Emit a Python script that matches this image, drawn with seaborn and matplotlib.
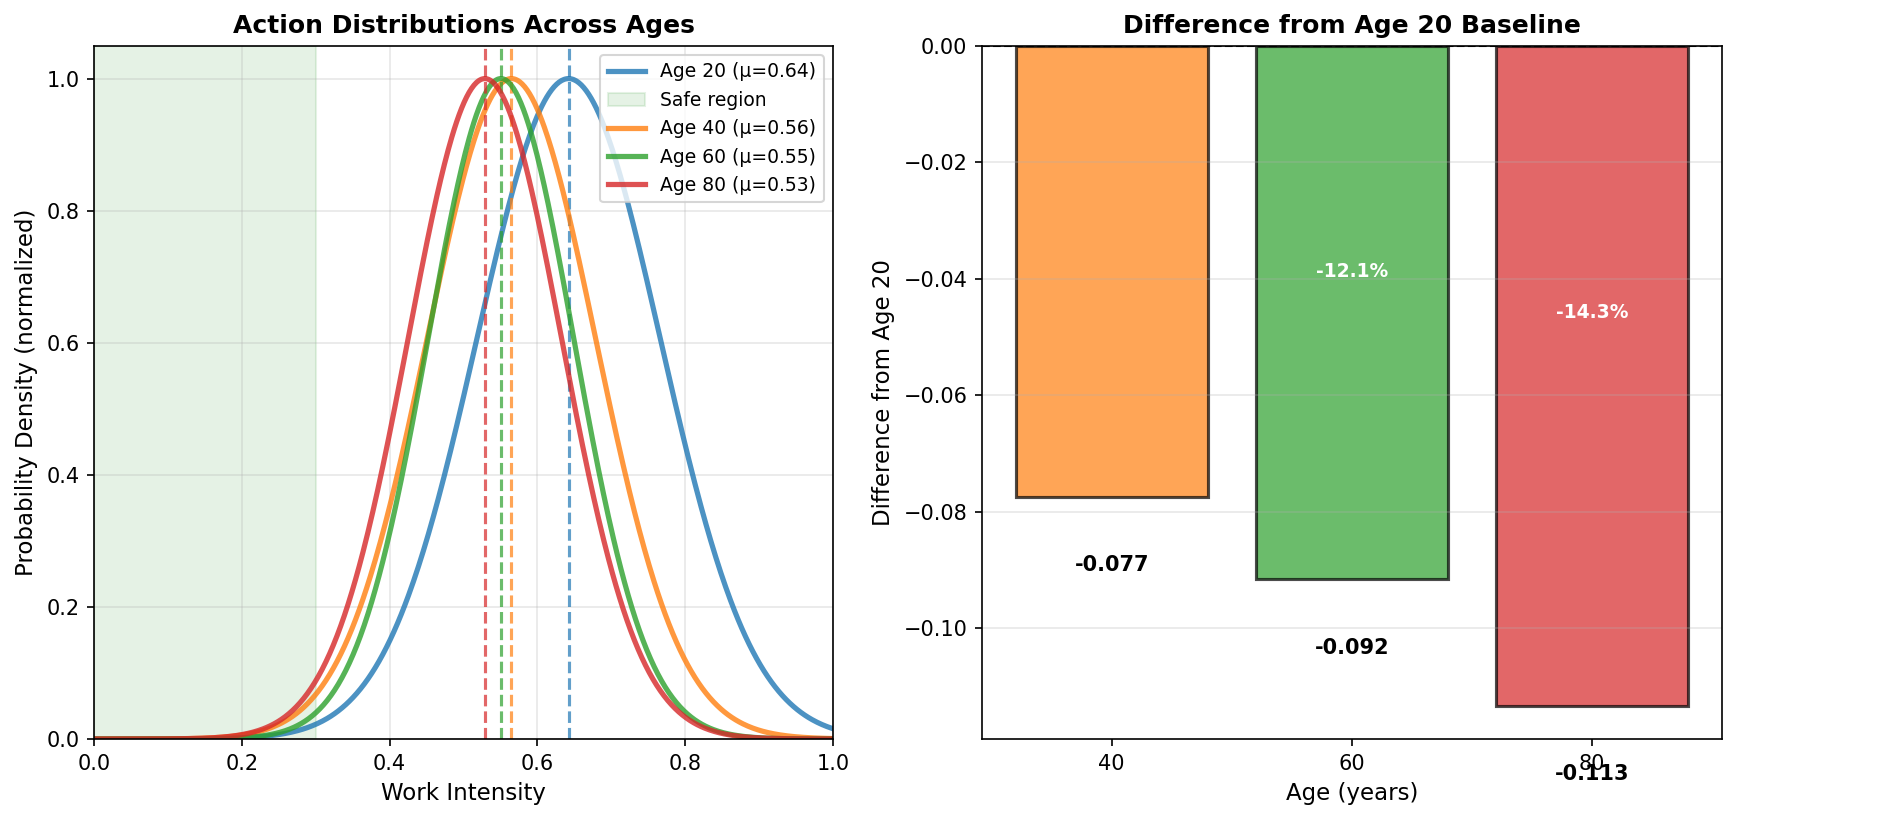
import matplotlib
matplotlib.use("Agg")
import matplotlib.pyplot as plt
import numpy as np
import pandas as pd
import seaborn as sns

# values
ages = [20, 40, 60, 80]
means = [0.6422, 0.5648, 0.5506, 0.5289]
sigmas = [0.124, 0.114, 0.0986, 0.1038]
colors = ["#1f77b4", "#ff7f0e", "#2ca02c", "#d62728"]
pct_labels = ["-12.1%", "-14.3%"]  # drawn on the Age 60 and Age 80 bars
safe_region = (0.0, 0.3)

fig = plt.figure(figsize=(1883 / 150, 820 / 150), dpi=150)
ax1 = fig.add_axes([0.0499, 0.0988, 0.3925, 0.8456])
ax2 = fig.add_axes([0.5215, 0.0988, 0.3930, 0.8456])

# left: normalized action distributions
x = np.linspace(0, 1, 600)
for i, (age, mu, sd, c) in enumerate(zip(ages, means, sigmas, colors)):
    dens = np.exp(-0.5 * ((x - mu) / sd) ** 2)
    curve = pd.DataFrame({"x": x, "density": dens / dens.max()})
    sns.lineplot(data=curve, x="x", y="density", color=c, lw=2.5, alpha=0.8,
                 label=f"Age {age} (\u03bc={mu:.2f})", ax=ax1)
    ax1.axvline(mu, color=c, ls="--", lw=1.5, alpha=0.7)
    if i == 0:
        ax1.axvspan(*safe_region, color="green", alpha=0.1, label="Safe region")

ax1.set_xlim(0, 1)
ax1.set_ylim(0, 1.05)
ax1.set_xlabel("Work Intensity", fontsize=11)
ax1.set_ylabel("Probability Density (normalized)", fontsize=11)
ax1.set_title("Action Distributions Across Ages", fontsize=12, fontweight="bold")
ax1.grid(alpha=0.3)
ax1.legend(loc="upper right", fontsize=9)

# right: difference from the age 20 baseline
diff_df = pd.DataFrame({
    "age": ages[1:],
    "diff": [m - means[0] for m in means[1:]],
})
sns.barplot(data=diff_df, x="age", y="diff", hue="age", palette=colors[1:],
            native_scale=True, dodge=False, legend=False, saturation=1,
            width=0.8, alpha=0.7, edgecolor="black", linewidth=1.5, ax=ax2)
ax2.axhline(0, color="black", ls="--", lw=1)

for i, row in diff_df.iterrows():
    ax2.text(row["age"], row["diff"] - 0.01, f"{row['diff']:.3f}", ha="center",
             va="top", fontsize=10, fontweight="bold", clip_on=False)
    if i + 1 < len(diff_df):
        ax2.text(diff_df["age"][i + 1], row["diff"] / 2, pct_labels[i],
                 ha="center", va="center", fontsize=9, fontweight="bold",
                 color="white")

ax2.set_xticks(ages[1:])
ax2.set_xlim(29.2, 90.8)
ax2.set_ylim(diff_df["diff"].min() * 1.05, 0)
ax2.set_xlabel("Age (years)", fontsize=11)
ax2.set_ylabel("Difference from Age 20", fontsize=11)
ax2.set_title("Difference from Age 20 Baseline", fontsize=12, fontweight="bold")
ax2.grid(axis="y", alpha=0.3)

fig.savefig("out.png", dpi=150)
